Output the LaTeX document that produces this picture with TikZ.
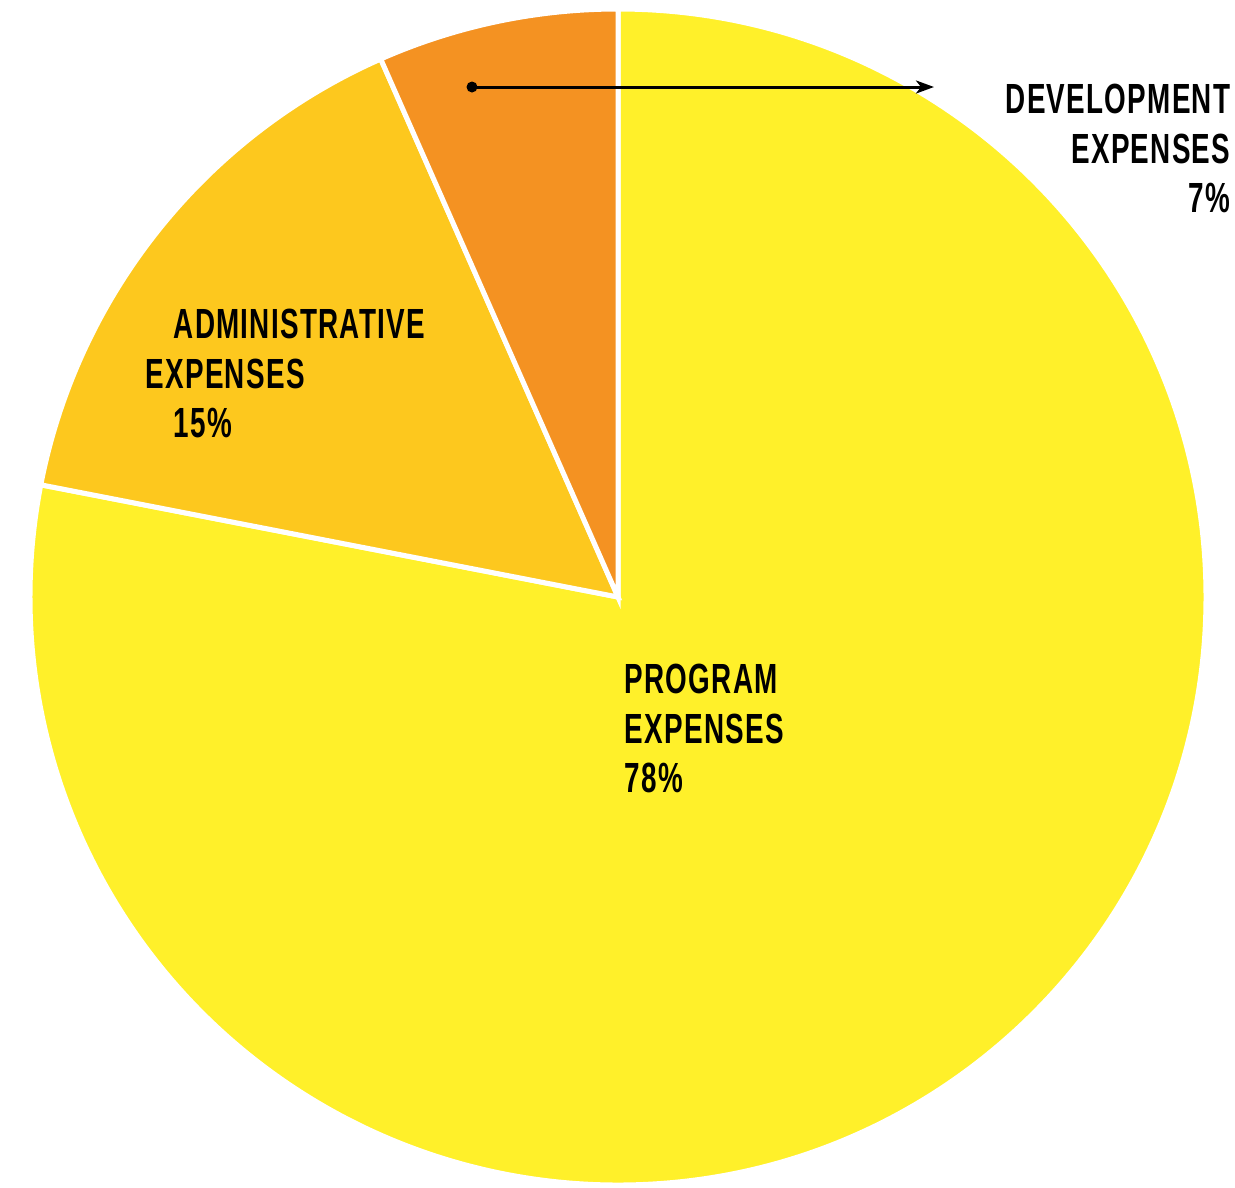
\documentclass[tikz,border=0pt]{standalone}
\usepackage{fontspec}
\newfontfamily\labelfont{Liberation Sans}[FakeStretch=0.66, LetterSpace=3]
\usetikzlibrary{arrows.meta,positioning}

\definecolor{progyellow}{HTML}{FFF02A}
\definecolor{adminyellow}{HTML}{FDC81E}
\definecolor{devorange}{HTML}{F49222}

\begin{document}
\begin{tikzpicture}[
    x=0.1mm, y=0.1mm,
    slice/.style={draw=white, line width=0.5mm, line join=miter},
    label/.style={inner sep=0pt, font=\labelfont\bfseries\fontsize{12}{14.2}\selectfont},
    dot/.style={circle, fill=black, inner sep=0pt, minimum size=1.1mm},
    arrow/.style={-{Stealth[length=1.8mm, width=1.3mm, inset=0.5mm]}, line width=0.3mm}
]
\useasboundingbox (-618,-590) rectangle (617,597);

% Slices
\coordinate (c) at (0,0);
\filldraw[slice, fill=progyellow] (c) -- (90:588) arc[start angle=90, end angle=-191, radius=588] -- cycle;
\filldraw[slice, fill=adminyellow] (c) -- (169:588) arc[start angle=169, end angle=113.8, radius=588] -- cycle;
\filldraw[slice, fill=devorange] (c) -- (113.8:588) arc[start angle=113.8, end angle=90, radius=588] -- cycle;

% Labels
\node[label, anchor=north east, align=right] (dev) at (613,514) {DEVELOPMENT\\EXPENSES\\7\%};
\node[label, anchor=north west, align=left] (admin) at (-473,289) {\hspace*{2.8mm}ADMINISTRATIVE\\EXPENSES\\\hspace*{2.8mm}15\%};
\node[label, anchor=north west, align=left] (prog) at (6,-66) {PROGRAM\\EXPENSES\\78\%};

% Pointer
\node[dot] (devdot) at (-146,510) {};
\coordinate (devtip) at (316,510);
\draw[arrow] (devdot.center) -- (devtip);

\end{tikzpicture}
\end{document}
